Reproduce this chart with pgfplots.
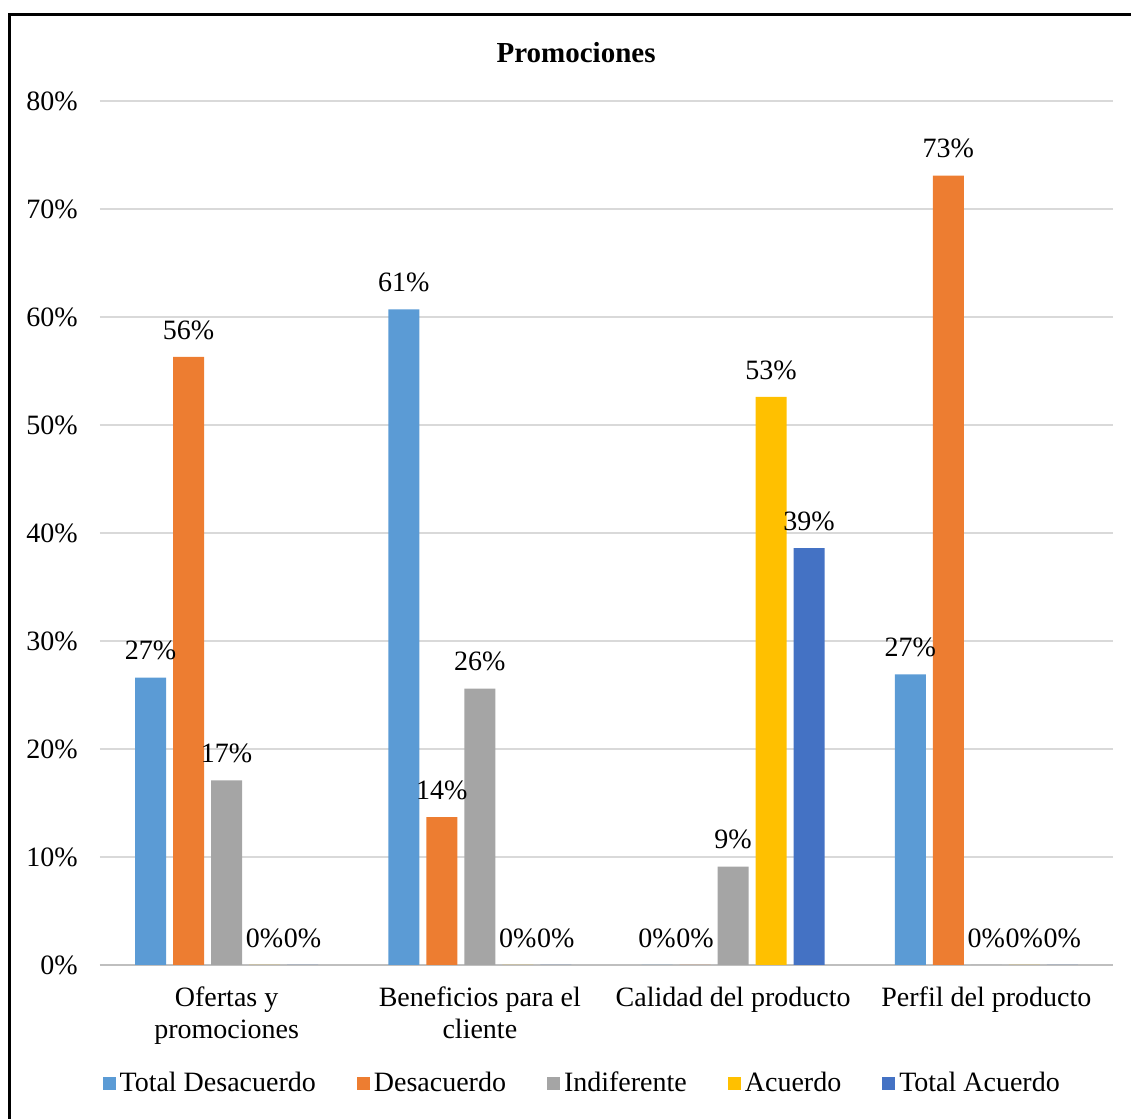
\documentclass[border=0pt]{standalone}
\usepackage{fontspec}
\setmainfont{Liberation Serif}
\usepackage{pgfplots}
\pgfplotsset{compat=1.18}
\definecolor{cTD}{HTML}{5B9BD5}
\definecolor{cD}{HTML}{ED7D31}
\definecolor{cI}{HTML}{A5A5A5}
\definecolor{cA}{HTML}{FFC000}
\definecolor{cTA}{HTML}{4472C4}
\definecolor{gridc}{HTML}{D9D9D9}
\definecolor{basec}{HTML}{BFBFBF}
\begin{document}
\fontsize{14}{16}\selectfont
\begin{tikzpicture}
\useasboundingbox (-50pt,-77pt) rectangle (515.5pt,482.5pt);
\draw[line width=1.5pt, black] (-45pt,-80pt) -- (-45pt,475pt) -- (520pt,475pt);
\begin{axis}[
  at={(0,0)}, anchor=south west,
  scale only axis, width=506.5pt, height=432pt,
  ybar=3.5pt, bar width=15.5pt,
  xmin=-0.5, xmax=3.5, ymin=0, ymax=80,
  xtick={0,1,2,3},
  xticklabels={{Ofertas y\\promociones},{Beneficios para el\\cliente},{Calidad del producto},{Perfil del producto}},
  xticklabel style={align=center, yshift=-6pt},
  ytick={0,10,...,80},
  yticklabel={\pgfmathprintnumber{\tick}\%},
  yticklabel style={xshift=-6.3pt},
  /pgf/number format/assume math mode=true,
  major tick length=0pt,
  ymajorgrids, grid style={draw=gridc, line width=0.75pt},
  separate axis lines,
  axis x line*=bottom, axis y line*=left,
  x axis line style={draw=basec, line width=1pt, -},
  y axis line style={draw=none},
  title={Promociones},
  title style={at={(0.47,1)}, anchor=base, yshift=13.5pt, font=\fontsize{14.5}{17}\selectfont\bfseries},
  nodes near coords={\pgfmathprintnumber[fixed,precision=0]{\pgfplotspointmeta}\%},
  every node near coord/.append style={anchor=south, inner sep=0pt, yshift=8.5pt},
  legend style={at={(0.477,-0.1377)}, anchor=center, draw=none, legend columns=5,
    /tikz/every even column/.append style={column sep=18.5pt}},
  legend image code/.code={\fill[#1, draw=none] (0pt,-3.25pt) rectangle (6.5pt,3.25pt);},
]
\addplot[fill=cTD, draw=none] coordinates {(0,26.6) (1,60.7) (2,0) (3,26.9)};
\addplot[fill=cD, draw=none] coordinates {(0,56.3) (1,13.7) (2,0) (3,73.1)};
\addplot[fill=cI, draw=none] coordinates {(0,17.1) (1,25.6) (2,9.1) (3,0)};
\addplot[fill=cA, draw=none] coordinates {(0,0) (1,0) (2,52.6) (3,0)};
\addplot[fill=cTA, draw=none] coordinates {(0,0) (1,0) (2,38.6) (3,0)};
\legend{Total Desacuerdo, Desacuerdo, Indiferente, Acuerdo, Total Acuerdo}
\end{axis}
\end{tikzpicture}
\end{document}
